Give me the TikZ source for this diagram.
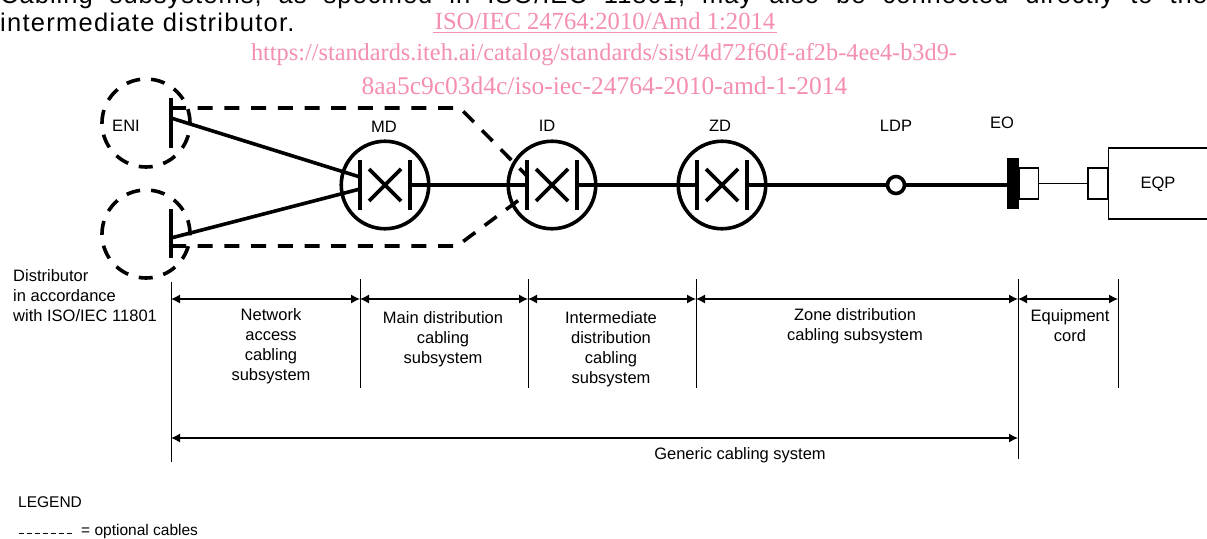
\documentclass[tikz,border=0pt]{standalone}
\usepackage{fontspec}
\setmainfont{Liberation Sans}
\newfontfamily\markfont{Liberation Serif}
\usepackage{xcolor}
\usetikzlibrary{arrows.meta,positioning}
\definecolor{markpink}{HTML}{F48FB1}

\begin{document}
\begin{tikzpicture}[
    x=1pt, y=-1pt,
    lbl/.style={inner sep=0pt, align=center, font=\fontsize{16.5}{20}\selectfont},
    lblleft/.style={lbl, align=left, anchor=west},
    stamp/.style={inner sep=0pt, text=markpink, font=\markfont\fontsize{24.3}{24}\selectfont},
    body/.style={inner sep=0pt, anchor=base west, font=\fontsize{25.5}{28}\selectfont},
    device/.style={draw, circle, line width=3.6pt, minimum size=87.5pt, inner sep=0pt},
    outlet/.style={draw, circle, fill=white, line width=3.6pt, minimum size=17pt, inner sep=0pt},
    net/.style={draw, circle, dash pattern=on 14pt off 11pt, line width=3.6pt, minimum size=88pt, inner sep=0pt},
    cable/.style={line width=3.6pt},
    option/.style={line width=3.6pt, dash pattern=on 15pt off 11.7pt},
    plug/.style={draw, line width=1.2pt, inner sep=0pt},
    tick/.style={line width=1pt},
    dim/.style={{Latex[length=9pt,width=9pt]}-{Latex[length=9pt,width=9pt]}, line width=1.2pt}
]
\clip (0,0) rectangle (1207,538);
\fill[white] (0,0) rectangle (1207,538);

% text above the figure
\node[body, text width=1207pt, align=justify] (para) at (0,3) {\addfontfeatures{LetterSpace=4}Cabling\hfill subsystems,\hfill as\hfill specified\hfill in\hfill ISO/IEC\hfill 11801,\hfill may\hfill also\hfill be\hfill connected\hfill directly\hfill to\hfill the};
\node[body] (last) at (0,31.5) {\addfontfeatures{LetterSpace=5}intermediate distributor.};
\node[stamp, font=\markfont\fontsize{24.6}{24}\selectfont] (std) at (605,21) {ISO/IEC 24764:2010/Amd 1:2014};
\draw[markpink, line width=1pt] (433,32) -- (777,32);
\node[stamp] (url1) at (604,55) {https://standards.iteh.ai/catalog/standards/sist/4d72f60f-af2b-4ee4-b3d9-};
\node[stamp, font=\markfont\fontsize{25.5}{24}\selectfont] (url2) at (604.5,86) {8aa5c9c03d4c/iso-iec-24764-2010-amd-1-2014};

% distributors
\node[net] (eni) at (146,123) {};
\node[net] (dist) at (146,234) {};
\node[lbl] (enilabel) at (126,126) {ENI};
\node[lblleft, anchor=north west] (distlabel) at (13,269) {Distributor\\in accordance\\with ISO/IEC 11801};

\foreach \name/\x in {md/385, id/552, zd/722} {
    \node[device] (\name) at (\x,185) {};
    \coordinate (\name l) at (\x-25,185);
    \coordinate (\name r) at (\x+25,185);
    \draw[cable] (\x-25,160) -- (\x-25,210);
    \draw[cable] (\x+25,160) -- (\x+25,210);
    \draw[cable] (\x-16,169) -- (\x+16,201);
    \draw[cable] (\x-16,201) -- (\x+16,169);
}
\node[lbl] (mdlabel) at (384,127) {MD};
\node[lbl] (idlabel) at (547,126) {ID};
\node[lbl] (zdlabel) at (720,126) {ZD};

% distributor terminals
\coordinate (enibar1) at (171,98);
\coordinate (enibar2) at (171,148);
\coordinate (distbar1) at (171,209);
\coordinate (distbar2) at (171,258);
\coordinate (enisolid) at (171,118);
\coordinate (distsolid) at (171,238);
\coordinate (mdin1) at (360,177);
\coordinate (mdin2) at (360,189);
\draw[cable] (enibar1) -- (enibar2);
\draw[cable] (distbar1) -- (distbar2);
\draw[cable] (enisolid) -- (mdin1);
\draw[cable] (distsolid) -- (mdin2);

% optional cables
\coordinate (enidash) at (171,108);
\coordinate (enibend) at (460,108);
\coordinate (idin1) at (527,176);
\coordinate (distdash) at (171,246);
\coordinate (distbend) at (457,246);
\coordinate (idin2) at (527,194);
\draw[option] (enidash) -- (enibend) -- (idin1);
\draw[option] (distdash) -- (distbend) -- (idin2);

% channel
\node[outlet] (ldp) at (896,185) {};
\node[lbl] (ldplabel) at (896,126) {LDP};
\node[lbl] (eolabel) at (1002,123) {EO};
\node[fill=black, minimum width=12pt, minimum height=51pt, inner sep=0pt] (eo) at (1013,183.5) {};
\node[plug, minimum width=19pt, minimum height=31pt, right=0pt of eo] (eoplug) {};
\node[plug, minimum width=20pt, minimum height=31pt] (eqpplug) at (1098,183.5) {};
\node[plug, minimum width=130pt, minimum height=71pt, anchor=west] (eqp) at (1108,183.5) {};
\node[lbl] (eqplabel) at (1158,184) {EQP};
\draw[cable] (mdr) -- (idl);
\draw[cable] (idr) -- (zdl);
\draw[cable] (zdr) -- (ldp);
\draw[cable] (ldp) -- (ldp -| eo.west);
\draw[line width=1.2pt] (eoplug) -- (eqpplug);

% subsystem limits
\foreach \name/\x/\ya/\yb in {a/171/282/462, b/360/279/388, c/528/279/388, d/696/279/388, e/1018/279/459, f/1118/279/388} {
    \coordinate (\name top) at (\x,\ya);
    \coordinate (\name bot) at (\x,\yb);
    \coordinate (\name dim) at (\x,299);
    \draw[tick] (\name top) -- (\name bot);
}
\draw[dim] (adim) -- (bdim);
\draw[dim] (bdim) -- (cdim);
\draw[dim] (cdim) -- (ddim);
\draw[dim] (ddim) -- (edim);
\draw[dim] (edim) -- (fdim);
\coordinate (gena) at (171,438);
\coordinate (gene) at (1018,438);
\draw[dim] (gena) -- (gene);

\node[lbl] (network) at (271,346.5) {Network\\access\\cabling\\subsystem};
\node[lbl] (main) at (443,339.5) {Main distribution\\cabling\\subsystem};
\node[lbl] (inter) at (611,349.5) {Intermediate\\distribution\\cabling\\subsystem};
\node[lbl] (zone) at (855,326.5) {Zone distribution\\cabling subsystem};
\node[lbl] (cord) at (1070,326) {Equipment\\cord};
\node[lbl] (generic) at (740,455) {Generic cabling system};

% legend
\node[lblleft, font=\fontsize{15.5}{20}\selectfont] (legend) at (18,502) {LEGEND};
\coordinate (keya) at (19,533);
\coordinate (keyb) at (73,533);
\draw[line width=0.8pt, dash pattern=on 5pt off 3pt] (keya) -- (keyb);
\node[lblleft, font=\fontsize{15.5}{20}\selectfont] (keytext) at (81,531) {= optional cables};
\end{tikzpicture}
\end{document}
